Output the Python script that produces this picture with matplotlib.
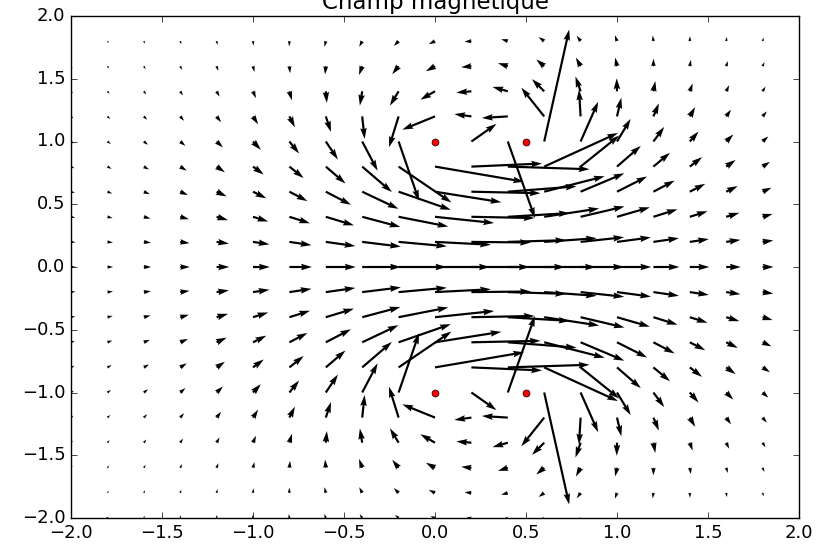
import numpy as np
import matplotlib.pyplot as plt

plt.style.use('classic')

# Deux spires coaxiales (axe x), vues en coupe : position, rayon, courant
coil_x = [0.0, 0.5]
coil_radius = [1.0, 1.0]
coil_current = [1.0, 1.0]

# grille des points de calcul
grid_x = np.arange(-2, 2, 0.2)
grid_y = np.arange(-2, 2, 0.2)

X, Y = np.meshgrid(grid_x, grid_y)
Bx = np.zeros_like(X)
By = np.zeros_like(Y)

#Biot-Savart sur chaque spire decoupee en petits segments
n = 60
theta = (np.arange(n) + 0.5) * 2 * np.pi / n
dtheta = 2 * np.pi / n
for xc, R, I in zip(coil_x, coil_radius, coil_current):
    Ly = R * np.cos(theta)
    Lz = R * np.sin(theta)
    dly = -R * np.sin(theta) * dtheta
    dlz = R * np.cos(theta) * dtheta
    rx = X[..., None] - xc
    ry = Y[..., None] - Ly
    rz = 0 - Lz
    r3 = (rx**2 + ry**2 + rz**2) ** 1.5
    # dl x r  (dl n'a pas de composante x)
    cx = dly * rz - dlz * ry
    cy = dlz * rx
    Bx += I * np.sum(cx / r3, axis=-1)
    By += I * np.sum(cy / r3, axis=-1)

# pas de fleche sur les fils eux-memes
near = np.zeros_like(X, dtype=bool)
for xc, R in zip(coil_x, coil_radius):
    near |= np.hypot(X - xc, np.abs(Y) - R) < 0.05
Bx = np.ma.masked_where(near, Bx)
By = np.ma.masked_where(near, By)

fig = plt.figure(figsize=(8.33, 5.44), dpi=100)
ax = fig.add_axes([71/833, 26/544, 728/833, 502/544])
ax.quiver(X, Y, Bx, By)

# fils (coupe des spires)
for xc, R in zip(coil_x, coil_radius):
    ax.plot([xc, xc], [R, -R], 'ro', markersize=5)

ax.set_xlim(-2, 2)
ax.set_ylim(-2, 2)
ax.tick_params(labelsize=13)
ax.set_title('Champ magnétique', fontsize=16.5)

fig.savefig('out.png', dpi=100)
